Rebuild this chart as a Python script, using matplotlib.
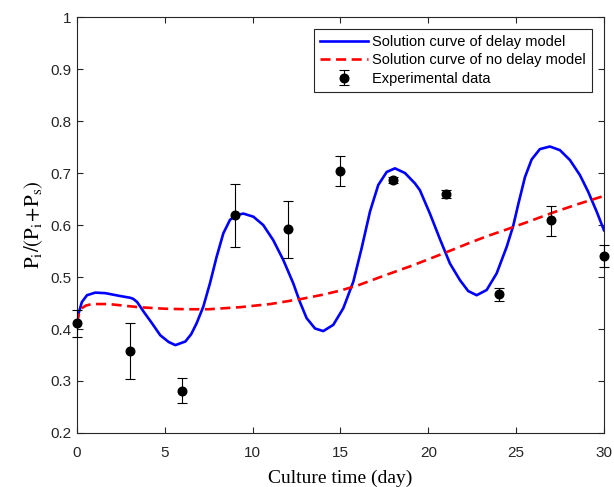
import matplotlib
matplotlib.use("Agg")
import matplotlib.pyplot as plt
import numpy as np

# Experimental data
exp_t = [0, 3, 6, 9, 12, 15, 18, 21, 24, 27, 30]
exp_y = [0.412, 0.358, 0.281, 0.619, 0.592, 0.704, 0.687, 0.660, 0.467, 0.609, 0.541]
exp_lo = [0.385, 0.304, 0.257, 0.558, 0.537, 0.676, 0.681, 0.652, 0.454, 0.579, 0.520]
exp_hi = [0.436, 0.411, 0.305, 0.679, 0.647, 0.732, 0.693, 0.668, 0.479, 0.637, 0.562]

# Delay model curve
delay_t = [0.0, 0.09, 0.28, 0.57, 1.04, 1.61, 2.37, 3.04, 3.2, 3.42, 3.8, 4.27, 4.74,
           5.22, 5.6, 6.17, 6.5, 6.81, 7.19, 7.57, 7.95, 8.33, 8.71, 9.09, 9.47, 10.04,
           10.6, 11.17, 11.74, 12.31, 12.69, 13.07, 13.55, 14.02, 14.59, 15.16, 15.73,
           16.2, 16.68, 17.15, 17.63, 18.1, 18.67, 19.24, 19.52, 20.09, 20.66, 21.23,
           21.8, 22.27, 22.75, 23.32, 23.89, 24.46, 24.83, 25.12, 25.5, 25.88, 26.35,
           26.92, 27.49, 28.06, 28.63, 29.1, 29.58, 30.0]
delay_y = [0.411, 0.430, 0.452, 0.465, 0.470, 0.469, 0.464, 0.460, 0.458, 0.452, 0.433, 0.411, 0.388,
           0.375, 0.369, 0.376, 0.390, 0.411, 0.443, 0.488, 0.539, 0.584, 0.610, 0.619, 0.622, 0.616,
           0.600, 0.571, 0.533, 0.488, 0.452, 0.421, 0.401, 0.396, 0.408, 0.440, 0.491,
           0.555, 0.626, 0.677, 0.702, 0.709, 0.700, 0.680, 0.667, 0.622, 0.573, 0.526,
           0.494, 0.473, 0.465, 0.475, 0.507, 0.558, 0.598, 0.640, 0.692, 0.726, 0.746,
           0.751, 0.744, 0.725, 0.696, 0.664, 0.626, 0.590]

# No-delay model curve
nodelay_t = [0.0, 0.1, 0.28, 0.5, 0.85, 1.8, 3.5, 5.0, 6.3, 7.5, 9.3, 11.0, 12.8, 14.0,
             15.0, 16.0, 17.43, 19.0, 20.0, 21.2, 22.3, 23.3, 24.5, 25.5, 27.1, 28.5, 30.0]
nodelay_y = [0.411, 0.428, 0.440, 0.445, 0.448, 0.448, 0.442, 0.439, 0.438, 0.438, 0.442, 0.448, 0.458, 0.466,
             0.474, 0.484, 0.502, 0.521, 0.534, 0.550, 0.565, 0.578, 0.592, 0.604, 0.624, 0.640, 0.656]

plt.rcParams['mathtext.fontset'] = 'stix'
tick_color = (0.15, 0.15, 0.15)

fig = plt.figure(figsize=(6.14, 4.87), dpi=100)
ax = fig.add_axes([0.1254, 0.1109, 0.8583, 0.8541])

ax.plot(delay_t, delay_y, color='#0000ff', lw=1.9, label='Solution curve of delay model', zorder=3)
ax.plot(nodelay_t, nodelay_y, color='#ff0000', lw=1.9, ls=(0, (3.8, 2.1)),
        label='Solution curve of no delay model', zorder=3)
yerr = [np.array(exp_y) - np.array(exp_lo), np.array(exp_hi) - np.array(exp_y)]
ax.errorbar(exp_t, exp_y, yerr=yerr, fmt='o', color='black', ms=6.2, ecolor='black',
            elinewidth=0.8, capsize=3.8, capthick=0.8, label='Experimental data', zorder=4, clip_on=False)

ax.set_xlim(0, 30)
ax.set_ylim(0.2, 1.0)
ax.set_xticks(np.arange(0, 31, 5))
ax.set_yticks(np.arange(0.2, 1.01, 0.1))
ax.set_yticklabels(['0.2', '0.3', '0.4', '0.5', '0.6', '0.7', '0.8', '0.9', '1'])

ax.tick_params(direction='in', top=True, right=True, length=4, width=0.8,
               colors=tick_color, labelsize=11)
ax.tick_params(axis='x', pad=9.5)
ax.tick_params(axis='y', pad=4)
for lab in ax.get_xticklabels() + ax.get_yticklabels():
    lab.set_family('Liberation Sans')
for sp in ax.spines.values():
    sp.set_color(tick_color)
    sp.set_linewidth(0.8)

ax.set_xlabel('Culture time (day)', family='Liberation Serif', fontsize=14, color='black', labelpad=7)
ax.set_ylabel(r'$\mathrm{P_i/(P_i\!+\!P_s)}$', fontsize=15, color='black', labelpad=4)

leg = ax.legend(loc='upper right', bbox_to_anchor=(0.9772, 0.971),
                prop={'family': 'Liberation Sans', 'size': 10.5},
                frameon=True, fancybox=False, edgecolor=tick_color, framealpha=1,
                handlelength=3.3, borderpad=0.4, labelspacing=0.3, handletextpad=0.3,
                borderaxespad=0.0)
leg.get_frame().set_linewidth(0.8)

fig.savefig('out.png', dpi=100)
